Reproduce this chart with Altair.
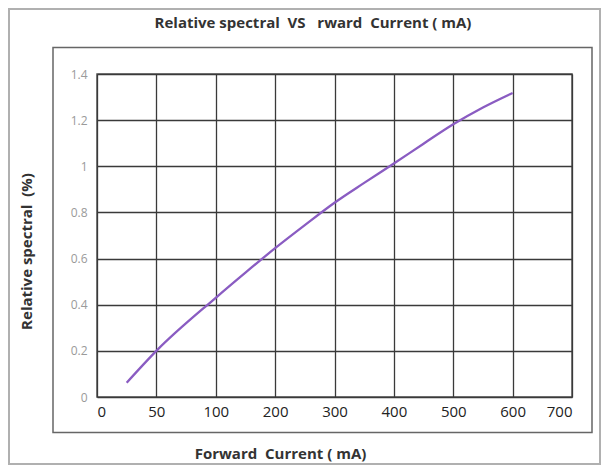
import altair as alt
import numpy as np
import pandas as pd

# ---- data ----
tick_labels = ["0", "50", "100", "200", "300", "400", "500", "600", "700"]
tick_values = [0, 50, 100, 200, 300, 400, 500, 600, 700]
current = [25, 50, 100, 150, 200, 250, 300, 350, 400, 450, 500, 550, 600]
spectral = [0.062, 0.20, 0.43, 0.539, 0.645, 0.745, 0.842, 0.928, 1.012, 1.098, 1.182, 1.255, 1.318]

# the x axis is drawn with evenly spaced (non-linear) ticks: map current -> tick position
pos = np.interp(current, tick_values, list(range(len(tick_values))))
df = pd.DataFrame({"pos": pos, "current": current, "spectral": spectral})
one = pd.DataFrame({"k": [0]})

W, H = 475, 323
FONT = "Open Sans"
label_expr = "[" + ",".join("'%s'" % t for t in tick_labels) + "][datum.value]"

line = alt.Chart(df).mark_line(color="#8a5cc2", strokeWidth=2.3, interpolate="monotone").encode(
    x=alt.X(
        "pos:Q",
        scale=alt.Scale(domain=[0, len(tick_labels) - 1], nice=False),
        axis=alt.Axis(
            values=list(range(len(tick_labels))),
            labelExpr=label_expr,
            labelFontSize=15,
            labelColor="#222222",
            labelPadding=7,
            labelFont=FONT,
            title="Forward\u00a0\u00a0Current ( mA)",
            titleFont=FONT,
            titleFontSize=15,
            titleFontWeight="bold",
            titleColor="#333333",
            titleX=183,
            titleY=56,
            titleAlign="center",
            titleBaseline="middle",
        ),
    ),
    y=alt.Y(
        "spectral:Q",
        scale=alt.Scale(domain=[0, 1.4], nice=False),
        axis=alt.Axis(
            values=[0, 0.2, 0.4, 0.6, 0.8, 1.0, 1.2, 1.4],
            format=".1~f",
            labelFontSize=12,
            labelColor="#9a9a9a",
            labelPadding=10,
            labelFont=FONT,
            title="Relative spectral\u00a0\u00a0(%)",
            titleFont=FONT,
            titleFontSize=15,
            titleFontWeight="bold",
            titleColor="#333333",
            titleX=-71,
            titleY=177,
            titleAlign="center",
            titleBaseline="middle",
        ),
    ),
)

outer = alt.Chart(one).mark_rect(filled=False, stroke="#b0b0b0", strokeWidth=2).encode(
    x=alt.value(-88), x2=alt.value(503), y=alt.value(-65), y2=alt.value(390)
)
inner = alt.Chart(one).mark_rect(filled=False, stroke="#666666", strokeWidth=1.5).encode(
    x=alt.value(-44), x2=alt.value(495), y=alt.value(-26.5), y2=alt.value(358.5)
)
title = alt.Chart(one).mark_text(
    text="Relative spectral\u00a0\u00a0VS\u00a0\u00a0\u00a0rward\u00a0\u00a0Current ( mA)",
    font=FONT, fontSize=15, fontWeight="bold", color="#333333",
    align="center", baseline="middle",
).encode(x=alt.value(216), y=alt.value(-51))

chart = alt.layer(outer, inner, title, line).properties(
    width=W, height=H,
    autosize=alt.AutoSizeParams(type="none"),
    padding={"left": 89, "top": 66, "right": 29, "bottom": 68},
    background="white",
).configure_view(stroke="#555555", strokeWidth=1.5).configure_axis(
    grid=True, gridColor="#3a3a3a", gridWidth=1.3, domain=False, ticks=False
)

chart.save("out.html", embed_options={"renderer": "svg", "actions": False})
